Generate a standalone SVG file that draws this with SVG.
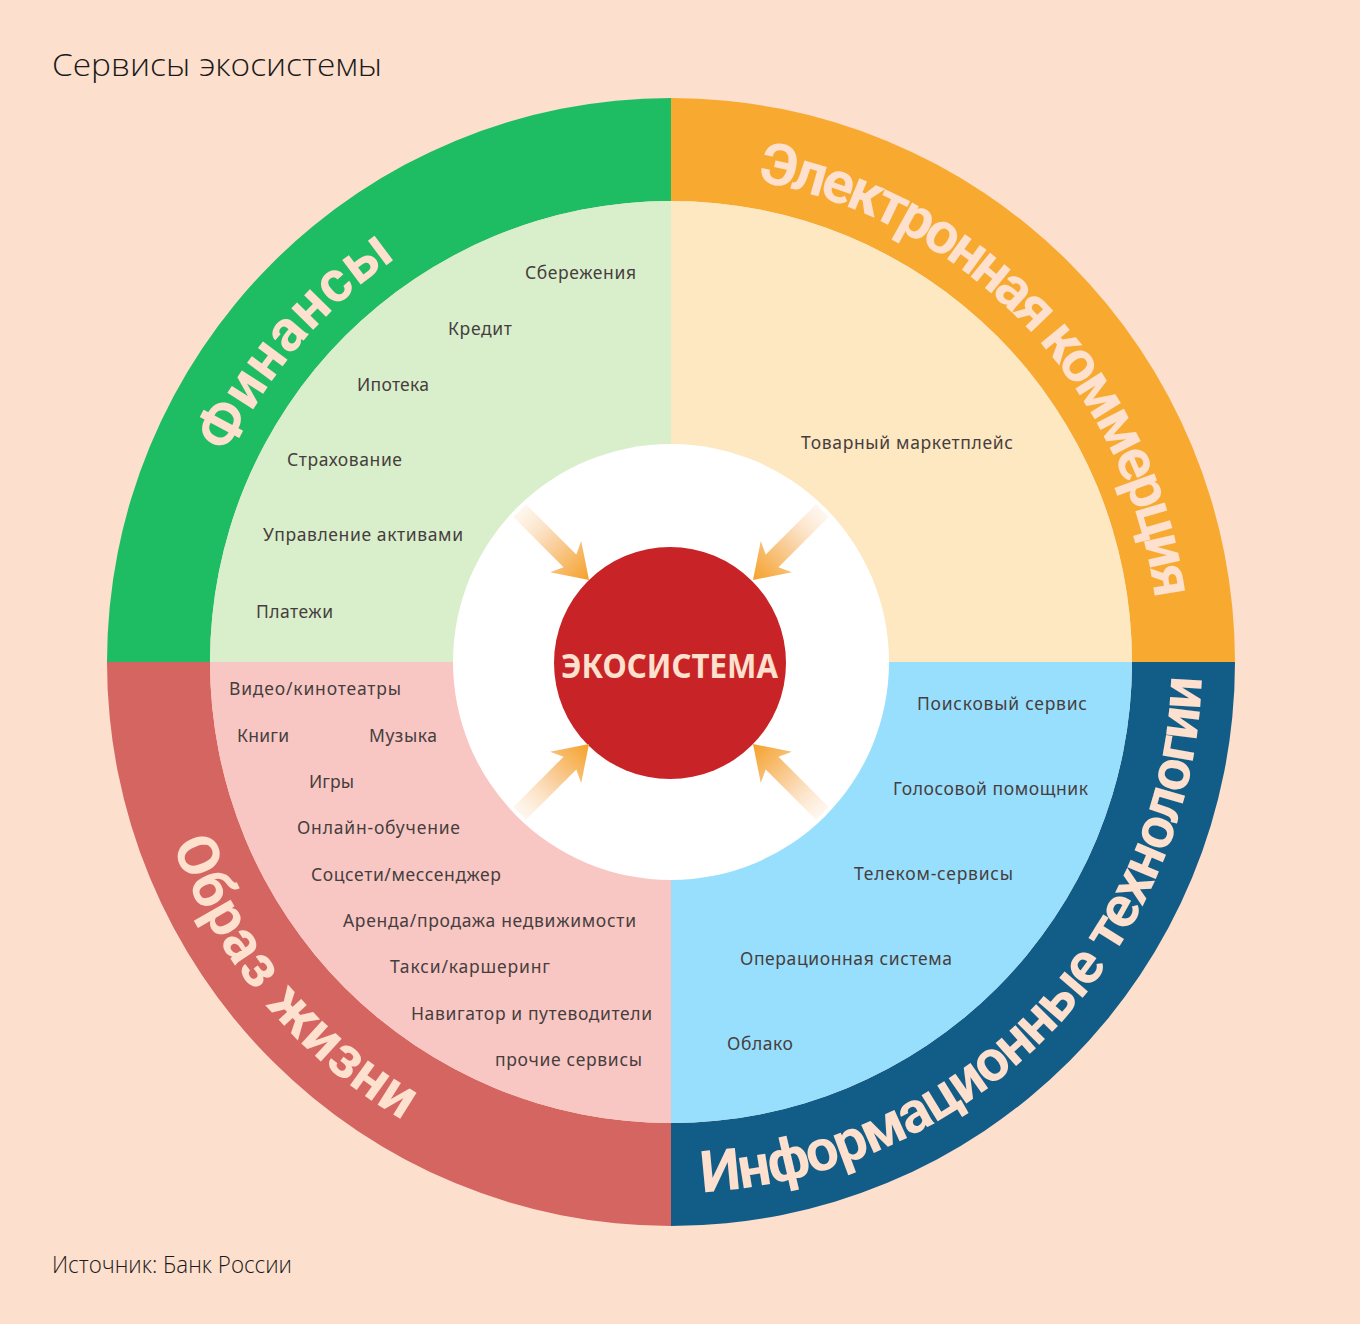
<svg xmlns="http://www.w3.org/2000/svg" xmlns:xlink="http://www.w3.org/1999/xlink" width="1360" height="1324" viewBox="0 0 1360 1324">
  <style>
    .lbl { font-family: "Noto Sans", "Open Sans", sans-serif; font-size: 17.5px; fill: #463e3e; }
    .ring { font-family: "Roboto", "Noto Sans", sans-serif; font-weight: 700; font-size: 58px; fill: #fde0cd; }
    .title { font-family: "Open Sans", "Noto Sans", sans-serif; font-weight: 300; fill: #1a1a1a; }
  </style>
  <defs>
    <linearGradient id="arrowGrad" x1="0" y1="0" x2="1" y2="0">
      <stop offset="0" stop-color="#fdeedd" stop-opacity="0.5"/>
      <stop offset="0.45" stop-color="#fad3a6"/>
      <stop offset="1" stop-color="#f5a12a"/>
    </linearGradient>
    <path id="arrow" d="M0,-9 L71,-9 L65,-22 L98,0 L65,22 L71,9 L0,9 Z" fill="url(#arrowGrad)"/>
    <path id="topArc" d="M183,662 A488,488 0 1 1 1159,662 A488,488 0 1 1 183,662"/>
    <path id="botArc" d="M140,662 A531,531 0 1 0 1202,662 A531,531 0 1 0 140,662"/>
  </defs>

  <rect width="1360" height="1324" fill="#fddfcd"/>

  <text class="title" x="52" y="76" font-size="32" textLength="330" lengthAdjust="spacingAndGlyphs">Сервисы экосистемы</text>

  <g id="finance">
    <path d="M107,662 A564,564 0 0 1 671,98 L671,201 A461,461 0 0 0 210,662 Z" fill="#1ebd64"/>
    <path d="M671,662 L210,662 A461,461 0 0 1 671,201 Z" fill="#d9efcb"/>
    <text class="ring"><textPath href="#topArc" xlink:href="#topArc" startOffset="345" text-anchor="middle" letter-spacing="1">Финансы</textPath></text>
    <text class="lbl" x="525" y="279" textLength="111">Сбережения</text>
    <text class="lbl" x="448" y="335" textLength="64">Кредит</text>
    <text class="lbl" x="357" y="391" textLength="72">Ипотека</text>
    <text class="lbl" x="287" y="466" textLength="115">Страхование</text>
    <text class="lbl" x="263" y="541" textLength="200">Управление активами</text>
    <text class="lbl" x="256" y="618" textLength="77">Платежи</text>
  </g>

  <g id="ecommerce">
    <path d="M671,98 A564,564 0 0 1 1235,662 L1132,662 A461,461 0 0 0 671,201 Z" fill="#f7aa2f"/>
    <path d="M671,662 L671,201 A461,461 0 0 1 1132,662 Z" fill="#fee8c1"/>
    <text class="ring"><textPath href="#topArc" xlink:href="#topArc" startOffset="1160" text-anchor="middle" letter-spacing="-3.6">Электронная коммерция</textPath></text>
    <text class="lbl" x="801" y="449" textLength="212">Товарный маркетплейс</text>
  </g>

  <g id="it">
    <path d="M1235,662 A564,564 0 0 1 671,1226 L671,1123 A461,461 0 0 0 1132,662 Z" fill="#125c88"/>
    <path d="M671,662 L1132,662 A461,461 0 0 1 671,1123 Z" fill="#98defd"/>
    <text class="ring"><textPath href="#botArc" xlink:href="#botArc" startOffset="1258" text-anchor="middle" letter-spacing="-1.6">Информационные технологии</textPath></text>
    <text class="lbl" x="917" y="710" textLength="170">Поисковый сервис</text>
    <text class="lbl" x="893" y="795" textLength="195">Голосовой помощник</text>
    <text class="lbl" x="854" y="880" textLength="159">Телеком-сервисы</text>
    <text class="lbl" x="740" y="965" textLength="212">Операционная система</text>
    <text class="lbl" x="727" y="1050" textLength="66">Облако</text>
  </g>

  <g id="lifestyle">
    <path d="M671,1226 A564,564 0 0 1 107,662 L210,662 A461,461 0 0 0 671,1123 Z" fill="#d56560"/>
    <path d="M671,662 L671,1123 A461,461 0 0 1 210,662 Z" fill="#f9c7c3"/>
    <text class="ring"><textPath href="#botArc" xlink:href="#botArc" startOffset="370" text-anchor="middle" letter-spacing="0.8">Образ жизни</textPath></text>
    <text class="lbl" x="229" y="695" textLength="172">Видео/кинотеатры</text>
    <text class="lbl" x="237" y="742" textLength="52">Книги</text>
    <text class="lbl" x="369" y="742" textLength="68">Музыка</text>
    <text class="lbl" x="309" y="788" textLength="45">Игры</text>
    <text class="lbl" x="297" y="834" textLength="163">Онлайн-обучение</text>
    <text class="lbl" x="311" y="881" textLength="190">Соцсети/мессенджер</text>
    <text class="lbl" x="343" y="927" textLength="293">Аренда/продажа недвижимости</text>
    <text class="lbl" x="390" y="973" textLength="160">Такси/каршеринг</text>
    <text class="lbl" x="411" y="1020" textLength="241">Навигатор и путеводители</text>
    <text class="lbl" x="495" y="1066" textLength="147">прочие сервисы</text>
  </g>

  <g id="ecosystem">
    <circle cx="671" cy="662" r="218" fill="#ffffff"/>
    <circle cx="670" cy="663" r="116" fill="#c82327"/>
    <text x="561" y="678" font-family="'Noto Sans', sans-serif" font-weight="700" font-size="34" fill="#fde0cd" textLength="217" lengthAdjust="spacingAndGlyphs">ЭКОСИСТЕМА</text>
  </g>

  <g id="connectors">
    <use href="#arrow" xlink:href="#arrow" transform="translate(519.7,510.7) rotate(45)"/>
    <use href="#arrow" xlink:href="#arrow" transform="translate(822.3,510.7) rotate(135)"/>
    <use href="#arrow" xlink:href="#arrow" transform="translate(519.7,813.3) rotate(-45)"/>
    <use href="#arrow" xlink:href="#arrow" transform="translate(822.3,813.3) rotate(-135)"/>
  </g>

  <text class="title" x="52" y="1273" font-size="23" textLength="240" lengthAdjust="spacingAndGlyphs">Источник: Банк России</text>
</svg>
